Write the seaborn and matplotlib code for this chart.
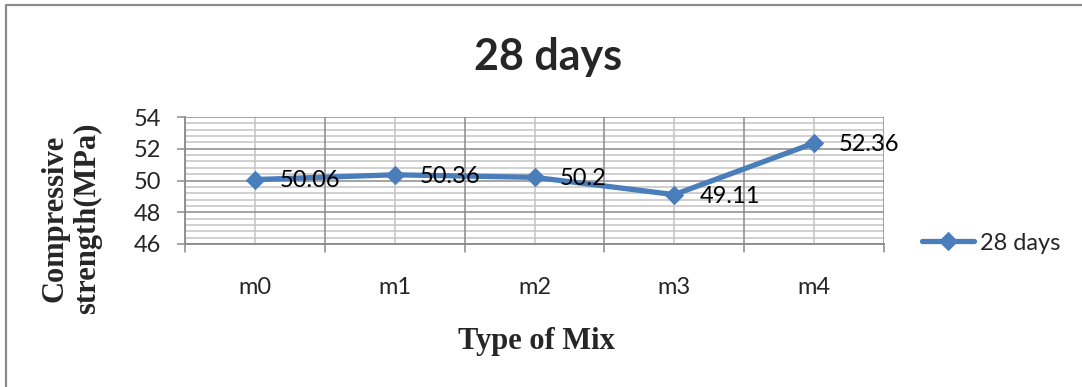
import numpy as np
import pandas as pd
import matplotlib
matplotlib.use("Agg")
import matplotlib.pyplot as plt
from matplotlib.lines import Line2D
from matplotlib.ticker import MultipleLocator, FixedLocator
import seaborn as sns

# Compressive strength after 28 days for each mix
mixes = ["m0", "m1", "m2", "m3", "m4"]
strength = [50.06, 50.36, 50.2, 49.11, 52.36]
series_name = "28 days"
y_ticks = [46, 48, 50, 52, 54]

df = pd.DataFrame({"mix": mixes, "strength": strength})

sns.set_style("white")
plt.rcParams["font.family"] = ["Lato", "DejaVu Sans"]

W, H = 1082, 387
fig = plt.figure(figsize=(W / 100, H / 100), dpi=100)
ax = fig.add_axes([185 / W, 1 - 244 / H, (884 - 185) / W, (244 - 117) / H])

blue = "#4A7EBB"
sns.lineplot(data=df, x="mix", y="strength", ax=ax, color=blue, lw=3.8,
             marker="D", markersize=8.8, markeredgecolor=blue,
             markerfacecolor=blue, label=series_name, sort=False)

ax.set_xlim(-0.5, len(mixes) - 0.5)
ax.set_ylim(y_ticks[0], y_ticks[-1])

# grid: major lines every 2 MPa, minor every 0.4; vertical at category edges/centres
ax.yaxis.set_major_locator(FixedLocator(y_ticks))
ax.yaxis.set_minor_locator(MultipleLocator(0.4))
ax.xaxis.set_major_locator(FixedLocator(range(len(mixes))))
ax.set_xticklabels(mixes)
edges = np.arange(len(mixes) + 1) - 0.5
for e in edges:
    ax.axvline(e, color="#8a8a8a", lw=1.1, zorder=0.6)
for c in range(len(mixes)):
    ax.axvline(c, color="#c4c4c4", lw=1.1, zorder=0.5)
ax.grid(axis="y", which="major", color="#8a8a8a", lw=1.1, zorder=0.6)
ax.grid(axis="y", which="minor", color="#c4c4c4", lw=1.1, zorder=0.5)
ax.grid(axis="x", which="major", visible=False)
ax.set_axisbelow(True)

for side in ["top", "right"]:
    ax.spines[side].set_visible(False)
for side in ["left", "bottom"]:
    ax.spines[side].set_color("#8a8a8a")
    ax.spines[side].set_linewidth(1.3)

ax.tick_params(axis="y", which="major", left=True, length=6, width=1.1,
               color="#8a8a8a", labelsize=17, pad=11)
ax.tick_params(axis="y", which="minor", left=False)
ax.tick_params(axis="x", which="major", bottom=False, labelsize=17, pad=20)
# tick marks on category boundaries
for e in edges:
    ax.plot([e, e], [0, -0.06], transform=ax.get_xaxis_transform(),
            color="#8a8a8a", lw=1.1, clip_on=False)

ax.set_xlabel("")
ax.set_ylabel("")

for i, v in enumerate(strength):
    ax.annotate(f"{v:g}", (i, v), xytext=(18, -1), textcoords="offset points",
                ha="left", va="center", fontsize=17, color="black")

leg = ax.legend(loc="center left", bbox_to_anchor=(922 / W, 1 - 243 / H),
                bbox_transform=fig.transFigure, frameon=False, fontsize=17,
                handlelength=2.2, handletextpad=0.25, borderaxespad=0,
                borderpad=0)

fig.text(548 / W, 1 - 57 / H, "28 days", ha="center", va="center",
         fontsize=31, fontweight="bold")
fig.text(536 / W, 1 - 341 / H, "Type of Mix", ha="center", va="center",
         fontsize=22, fontweight="bold", family="Liberation Serif")
fig.text(71 / W, 1 - 218 / H, "Compressive\nstrength(MPa)", ha="center",
         va="center", rotation=90, fontsize=22, fontweight="bold",
         family="Liberation Serif", linespacing=1.15)

# outer frame of the chart area
fig.add_artist(Line2D([6 / W, 6 / W], [0, 1 - 5 / H], transform=fig.transFigure,
                      color="#8c8c8c", lw=1.6))
fig.add_artist(Line2D([6 / W, 1], [1 - 5 / H, 1 - 5 / H], transform=fig.transFigure,
                      color="#8c8c8c", lw=1.6))

fig.savefig("out.png", dpi=100)
